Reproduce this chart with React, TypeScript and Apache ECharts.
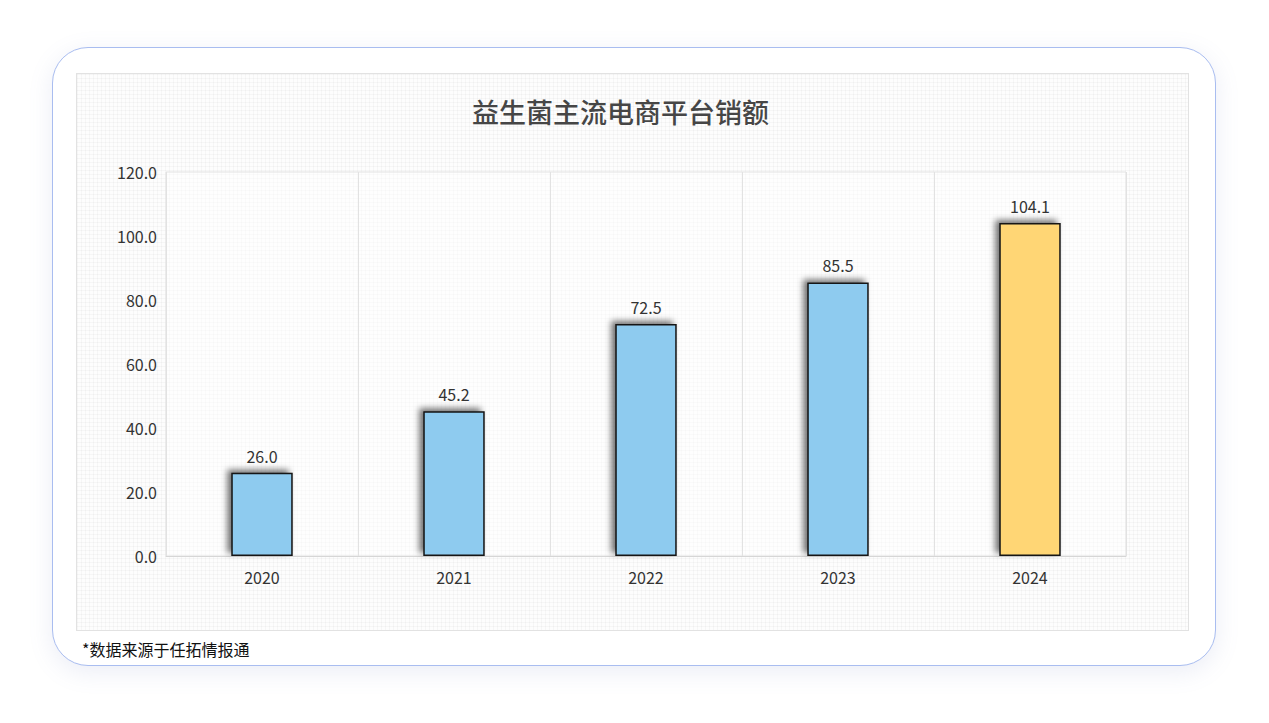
import { useEffect, useRef } from 'react';
import * as echarts from 'echarts';

const years = ['2020', '2021', '2022', '2023', '2024'];
const sales = [26.0, 45.2, 72.5, 85.5, 104.1];
const barColors = ['#8ecbef', '#8ecbef', '#8ecbef', '#8ecbef', '#ffd675'];

const FONT = '"Noto Sans CJK SC", "Noto Sans", sans-serif';

export default function App() {
  const chartRef = useRef<HTMLDivElement>(null);

  useEffect(() => {
    if (!chartRef.current) return;
    const chart = echarts.init(chartRef.current, null, { renderer: 'svg' });

    chart.setOption({
      animation: false,
      textStyle: { fontFamily: FONT },
      title: {
        text: '益生菌主流电商平台销额',
        left: 390,
        top: 19,
        textStyle: {
          fontFamily: FONT,
          fontSize: 27,
          fontWeight: 500,
          color: '#464646'
        }
      },
      grid: {
        left: 89,
        right: 62,
        top: 98,
        bottom: 74,
        show: true,
        borderColor: '#e2e2e2',
        borderWidth: 1,
        backgroundColor: 'rgba(255,255,255,0.45)'
      },
      xAxis: {
        type: 'category',
        data: years,
        axisTick: { show: false },
        axisLine: { lineStyle: { color: '#d6d6d6', width: 1 } },
        axisLabel: { color: '#333', fontSize: 16, margin: 13, fontFamily: FONT },
        splitLine: { show: true, lineStyle: { color: '#e2e2e2', width: 1 } }
      },
      yAxis: {
        type: 'value',
        min: 0,
        max: 120,
        interval: 20,
        axisLine: { show: false },
        axisTick: { show: false },
        splitLine: { show: false },
        axisLabel: {
          color: '#333',
          fontSize: 16,
          margin: 9,
          fontFamily: FONT,
          formatter: (v: number) => v.toFixed(1)
        }
      },
      series: [
        {
          type: 'bar',
          barWidth: '32%',
          data: sales.map((v, i) => ({
            value: v,
            itemStyle: { color: barColors[i] }
          })),
          itemStyle: {
            borderColor: '#161616',
            borderWidth: 1.5,
            shadowColor: 'rgba(0,0,0,0.55)',
            shadowBlur: 6,
            shadowOffsetX: -4,
            shadowOffsetY: -3
          },
          label: {
            show: true,
            position: 'top',
            distance: 9,
            color: '#333',
            fontSize: 16,
            fontFamily: FONT,
            formatter: (p: any) => Number(p.value).toFixed(1)
          }
        }
      ]
    });

    return () => {
      chart.dispose();
    };
  }, []);

  return (
    <div
      style={{
        position: 'fixed',
        left: 0,
        top: 0,
        width: 1269,
        height: 723,
        background: '#ffffff',
        fontFamily: FONT
      }}
    >
      {/* 外层卡片 */}
      <div
        style={{
          position: 'absolute',
          left: 52,
          top: 47,
          width: 1162,
          height: 617,
          borderRadius: 36,
          border: '1px solid #a9bdf0',
          background: '#fff',
          boxShadow: '0 6px 24px rgba(110,130,190,0.14)'
        }}
      />
      {/* 图表区域 */}
      <div
        style={{
          position: 'absolute',
          left: 76,
          top: 73,
          width: 1111,
          height: 556,
          border: '1px solid #e2e2e2',
          backgroundColor: '#fdfdfd',
          backgroundImage:
            'linear-gradient(rgba(0,0,0,0.028) 1px, transparent 1px), linear-gradient(90deg, rgba(0,0,0,0.028) 1px, transparent 1px)',
          backgroundSize: '4px 4px'
        }}
      >
        <div ref={chartRef} style={{ width: 1111, height: 556 }} />
      </div>
      <div
        style={{
          position: 'absolute',
          left: 82,
          top: 637,
          fontSize: 16,
          color: '#111',
          fontFamily: FONT
        }}
      >
        *数据来源于任拓情报通
      </div>
    </div>
  );
}
